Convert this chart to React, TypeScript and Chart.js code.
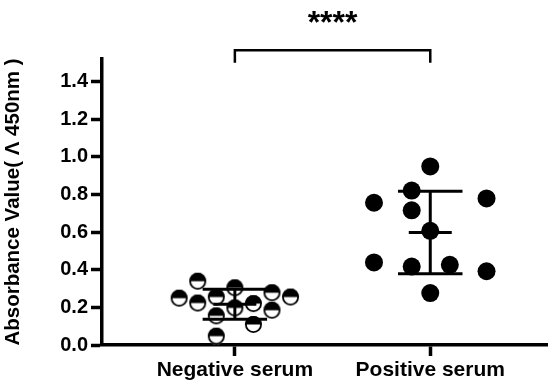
import React, { useEffect, useRef } from "react";
import { Chart, registerables } from "chart.js";

Chart.register(...registerables);

const CATEGORIES = ["Negative serum", "Positive serum"];
const CATEGORY_X = [1, 2];
const Y_TICKS = [0, 0.2, 0.4, 0.6, 0.8, 1.0, 1.2, 1.4];
const Y_TITLE = "Absorbance Value( Λ 450nm )";
const SIGNIFICANCE = "****";

// Negative serum: x jitter (category units) and absorbance values
const NEG_X = [-0.285, -0.19, -0.19, -0.095, 0, 0, -0.095, -0.095, 0.095, 0.095, 0.19, 0.19, 0.285];
const NEG_Y = [0.249, 0.339, 0.223, 0.255, 0.304, 0.197, 0.155, 0.047, 0.22, 0.109, 0.278, 0.185, 0.255];

// Positive serum
const POS_X = [0, -0.095, -0.095, -0.288, 0.288, 0, -0.288, -0.095, 0.1, 0.288, 0];
const POS_Y = [0.949, 0.821, 0.716, 0.756, 0.779, 0.607, 0.439, 0.417, 0.426, 0.392, 0.276];

const BRACKET_TOP = 1.566;
const BRACKET_LEG = 1.5;

function meanSd(v: number[]) {
  const m = v.reduce((a, b) => a + b, 0) / v.length;
  const s = Math.sqrt(v.reduce((a, b) => a + (b - m) * (b - m), 0) / (v.length - 1));
  return { m, s };
}

function makeHalfMarker(r: number) {
  const c = document.createElement("canvas");
  const size = Math.ceil(r * 2 + 2);
  c.width = size;
  c.height = size;
  const ctx = c.getContext("2d")!;
  const cx = size / 2;
  ctx.beginPath();
  ctx.arc(cx, cx, r, 0, 2 * Math.PI);
  ctx.fillStyle = "#fff";
  ctx.fill();
  ctx.beginPath();
  ctx.arc(cx, cx, r, Math.PI, 2 * Math.PI);
  ctx.closePath();
  ctx.fillStyle = "#000";
  ctx.fill();
  ctx.beginPath();
  ctx.arc(cx, cx, r - 0.9, 0, 2 * Math.PI);
  ctx.lineWidth = 1.8;
  ctx.strokeStyle = "#000";
  ctx.stroke();
  return c;
}

function errorBarDatasets(cx: number, values: number[]) {
  const { m, s } = meanSd(values);
  const cap = 0.165;
  const mw = 0.11;
  const seg = (pts: { x: number; y: number }[]) => ({
    type: "scatter" as const,
    data: pts,
    showLine: true,
    borderColor: "#000",
    borderWidth: 3,
    pointRadius: 0,
    borderCapStyle: "butt" as const,
    order: 0,
    clip: false as any,
  });
  return [
    seg([{ x: cx - cap, y: m + s }, { x: cx + cap, y: m + s }]),
    seg([{ x: cx - cap, y: m - s }, { x: cx + cap, y: m - s }]),
    seg([{ x: cx - mw, y: m }, { x: cx + mw, y: m }]),
    seg([{ x: cx, y: m - s }, { x: cx, y: m + s }]),
  ];
}

const FONT = "'Liberation Sans', Arial, sans-serif";

export default function App() {
  const ref = useRef<HTMLCanvasElement | null>(null);

  useEffect(() => {
    document.body.style.margin = "0";
    if (!ref.current) return;
    const half = makeHalfMarker(8.5);

    const bracketPlugin = {
      id: "bracket",
      afterDraw(chart: any) {
        const { ctx } = chart;
        const x = chart.scales.x;
        const y = chart.scales.y;
        const x1 = x.getPixelForValue(CATEGORY_X[0]);
        const x2 = x.getPixelForValue(CATEGORY_X[1]);
        const yt = y.getPixelForValue(BRACKET_TOP);
        const yb = y.getPixelForValue(BRACKET_LEG);
        ctx.save();
        ctx.strokeStyle = "#000";
        ctx.lineWidth = 2.5;
        ctx.lineCap = "butt";
        ctx.lineJoin = "miter";
        ctx.beginPath();
        ctx.moveTo(x1, yb);
        ctx.lineTo(x1, yt);
        ctx.lineTo(x2, yt);
        ctx.lineTo(x2, yb);
        ctx.stroke();
        ctx.fillStyle = "#000";
        ctx.font = `bold 32px ${FONT}`;
        ctx.textAlign = "center";
        ctx.textBaseline = "alphabetic";
        ctx.fillText(SIGNIFICANCE, (x1 + x2) / 2, yt - 17);
        ctx.restore();
      },
    };

    const chart = new Chart(ref.current, {
      type: "scatter",
      data: {
        datasets: [
          ...errorBarDatasets(CATEGORY_X[0], NEG_Y),
          ...errorBarDatasets(CATEGORY_X[1], POS_Y),
          {
            type: "scatter",
            data: NEG_X.map((dx, i) => ({ x: CATEGORY_X[0] + dx, y: NEG_Y[i] })),
            pointStyle: half as any,
            pointRadius: 8.5,
            order: 1,
            clip: false as any,
          },
          {
            type: "scatter",
            data: POS_X.map((dx, i) => ({ x: CATEGORY_X[1] + dx, y: POS_Y[i] })),
            pointStyle: "circle",
            pointRadius: 9,
            backgroundColor: "#000",
            borderWidth: 0,
            order: 1,
            clip: false as any,
          },
        ] as any,
      },
      options: {
        responsive: false,
        animation: false,
        layout: { padding: { top: 59, right: 7, left: 0, bottom: 0 } },
        plugins: { legend: { display: false }, tooltip: { enabled: false } },
        scales: {
          x: {
            type: "linear",
            min: 0.32,
            max: 2.6,
            afterBuildTicks: (s: any) => {
              s.ticks = CATEGORY_X.map((v) => ({ value: v }));
            },
            afterFit: (s: any) => {
              s.height = 45;
            },
            border: { display: true, color: "#000", width: 3.5 },
            grid: {
              drawOnChartArea: false,
              drawTicks: true,
              tickLength: 11,
              tickWidth: 3.5,
              tickColor: "#000",
              color: "#000",
            },
            ticks: {
              color: "#000",
              font: { family: FONT, size: 21, weight: "bold" },
              padding: 2,
              maxRotation: 0,
              autoSkip: false,
              callback: (v: any) => {
                const i = CATEGORY_X.indexOf(Number(v));
                return i >= 0 ? CATEGORIES[i] : "";
              },
            },
          },
          y: {
            type: "linear",
            min: 0,
            max: 1.52,
            afterBuildTicks: (s: any) => {
              s.ticks = Y_TICKS.map((v) => ({ value: v }));
            },
            afterFit: (s: any) => {
              s.width = 102;
            },
            border: { display: true, color: "#000", width: 3.5 },
            grid: {
              drawOnChartArea: false,
              drawTicks: true,
              tickLength: 11,
              tickWidth: 3.5,
              tickColor: "#000",
              color: "#000",
            },
            ticks: {
              color: "#000",
              font: { family: FONT, size: 20, weight: "bold" },
              padding: 3,
              callback: (v: any) => Number(v).toFixed(1),
            },
            title: {
              display: true,
              text: Y_TITLE,
              color: "#000",
              font: { family: FONT, size: 20.5, weight: "bold" },
              padding: { top: 1.5, bottom: 0 },
            },
          },
        },
      },
      plugins: [bracketPlugin],
    } as any);

    return () => chart.destroy();
  }, []);

  return (
    <div style={{ position: "fixed", left: 0, top: 0, width: 557, height: 390 }}>
      <canvas ref={ref} width={557} height={390} style={{ width: 557, height: 390, display: "block" }} />
    </div>
  );
}
